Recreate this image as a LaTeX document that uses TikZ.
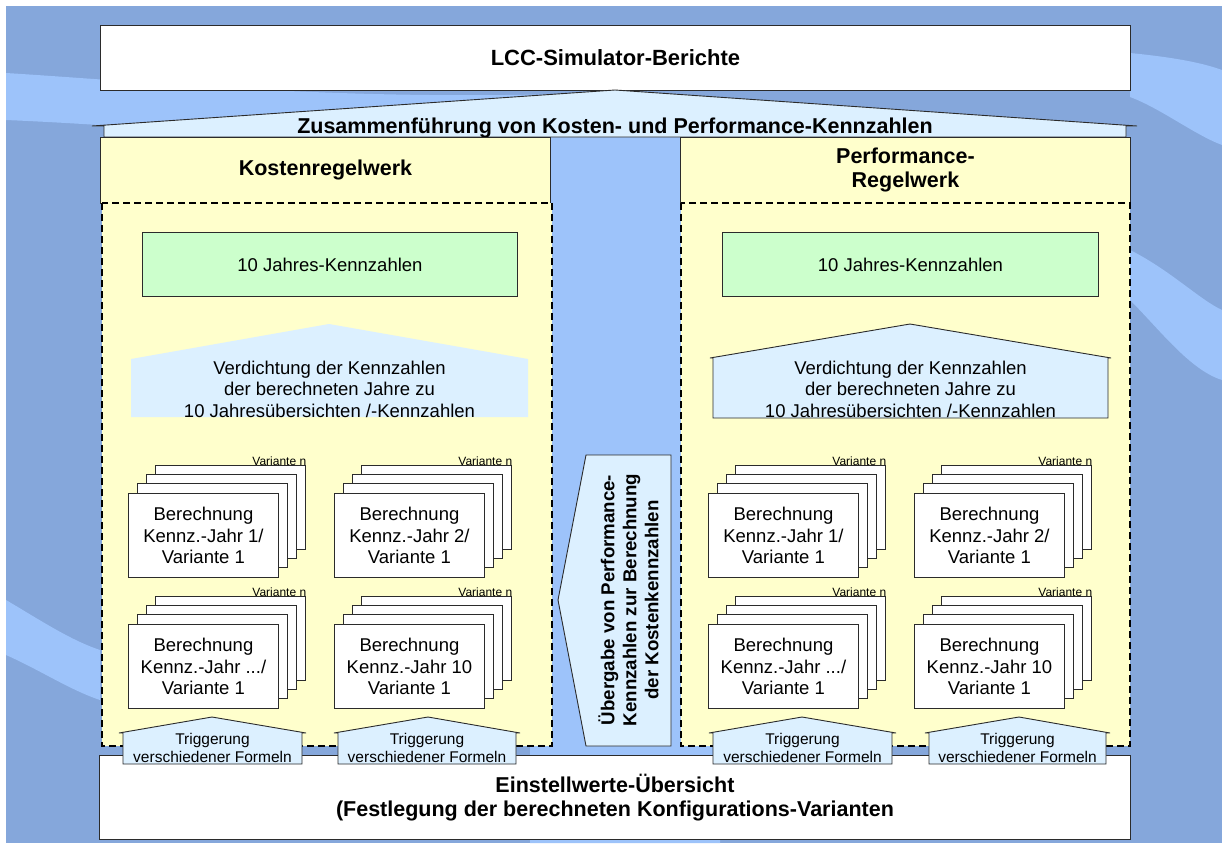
\documentclass[tikz,border=0pt]{standalone}
\usepackage{fontspec}
\setmainfont{Liberation Sans}
\definecolor{bgdark}{HTML}{85A7DB}
\definecolor{bglight}{HTML}{9DC3FA}
\definecolor{ylw}{HTML}{FFFFCC}
\definecolor{grn}{HTML}{CCFFCC}
\definecolor{lbl}{HTML}{DCF0FF}
\definecolor{edge}{HTML}{2B2B2B}
\newcommand{\bfnt}{\fontsize{21.5}{24}\selectfont\bfseries}
\newcommand{\topfnt}{\fontsize{22}{24}\selectfont\bfseries}
\newcommand{\nfnt}{\fontsize{18.5}{21.5}\selectfont}
\newcommand{\tfnt}{\fontsize{15.5}{18}\selectfont}
\newcommand{\vfnt}{\fontsize{12}{14}\selectfont}
\newcommand{\mfnt}{\fontsize{18.7}{22}\selectfont\bfseries}
\tikzset{
  bgl/.style={fill=bglight},
  wbox/.style={draw=edge, fill=white, line width=0.9pt, inner sep=0pt},
  ybox/.style={draw=edge, fill=ylw, line width=0.9pt, inner sep=0pt},
  gbox/.style={draw=edge, fill=grn, line width=0.9pt, inner sep=0pt},
  card/.style={draw=edge, fill=white, line width=0.9pt, inner sep=0pt},
  lbshape/.style={draw=edge, fill=lbl, line width=0.9pt, line join=miter},
  dpanel/.style={draw=black, fill=ylw, line width=1.6pt, dash pattern=on 7pt off 4pt},
  lbl text/.style={inner sep=0pt, align=center},
}
\newcommand{\cardstack}[4]{%
  \foreach \k in {3,2,1}{\draw[card] ({#1+\k*9.3},{#2-\k*9.3}) rectangle ++(150,84);}
  \node[card, minimum width=150pt, minimum height=84pt, anchor=north west, align=center, font=\nfnt] (#3) at (#1,#2) {#4};
  \node[inner sep=0pt, anchor=base east, font=\vfnt] (#3v) at ({#1+3*9.3+150.5},{#2-3*9.3}) {Variante n};
}
\newcommand{\trig}[4]{%
  \draw[lbshape] (#1,764) -- (#1,733) -- ({#1-4},733) -- (#3,717) -- ({#2+4},733) -- (#2,733) -- (#2,764) -- cycle;
  \node[lbl text, font=\tfnt] (#4) at ({(#1+#2)/2},747.5) {Triggerung\\verschiedener Formeln};
}
\begin{document}
\begin{tikzpicture}[x=1pt,y=-1pt]
\useasboundingbox (0,0) rectangle (1222,843);
% background
\fill[bgdark] (6,6) rectangle (1222,843);
\fill[bgl] (6,73) .. controls (150,82) and (330,100) .. (560,94) -- (720,100) -- (720,843) -- (530,843) -- (530,150) -- (300,140) .. controls (200,132) and (100,124) .. (6,120) -- cycle;
\fill[bgl] (1130,53) .. controls (1170,57) and (1200,62) .. (1222,70) -- (1222,145) .. controls (1195,135) and (1160,108) .. (1130,97) -- cycle;
\fill[bgl] (1130,250) .. controls (1170,270) and (1200,300) .. (1222,310) -- (1222,380) .. controls (1190,370) and (1160,330) .. (1130,300) -- cycle;
\fill[bgl] (6,600) .. controls (40,620) and (70,640) .. (100,650) -- (100,700) .. controls (70,690) and (40,670) .. (6,655) -- cycle;
% top box
\node[wbox, minimum width=1030pt, minimum height=65pt, anchor=north west, font=\topfnt] (top) at (100,25) {LCC-Simulator-Berichte};
% roof
\draw[lbshape] (104,137) -- (104,126) -- (92,126) -- (615,90) -- (1137,126) -- (1126,126) -- (1126,137) -- cycle;
\node[inner sep=0pt, anchor=base, font=\bfnt] (roof) at (615,133) {Zusammenführung von Kosten- und Performance-Kennzahlen};
% headers
\node[ybox, minimum width=450pt, minimum height=66pt, anchor=north west, font=\bfnt] (kh) at (100,137) {Kostenregelwerk};
\node[ybox, minimum width=450pt, minimum height=66pt, anchor=north west, font=\bfnt, align=center] (ph) at (680,137) {Performance-\\Regelwerk};
% dashed panels
\draw[dpanel] (102,203) rectangle (552,746);
\draw[dpanel] (681,203) rectangle (1130,746);
% green boxes
\node[gbox, minimum width=375pt, minimum height=64pt, anchor=north west, font=\nfnt] (kg) at (142,232) {10 Jahres-Kennzahlen};
\node[gbox, minimum width=376pt, minimum height=64pt, anchor=north west, font=\nfnt] (pg) at (722,232) {10 Jahres-Kennzahlen};
% Verdichtung
\fill[lbl] (131,359) -- (329,324) -- (528,359) -- (528,417) -- (131,417) -- cycle;
\node[lbl text, font=\nfnt] (kv) at (329.5,389) {Verdichtung der Kennzahlen\\der berechneten Jahre zu\\10 Jahresübersichten /-Kennzahlen};
\draw[lbshape] (713,418) -- (713,358) -- (710,358) -- (910,324) -- (1111,358) -- (1108,358) -- (1108,418) -- cycle;
\node[lbl text, font=\nfnt] (pv) at (910.5,389) {Verdichtung der Kennzahlen\\der berechneten Jahre zu\\10 Jahresübersichten /-Kennzahlen};
% card stacks
\cardstack{128}{493}{k1}{Berechnung\\Kennz.-Jahr 1/\\Variante 1}
\cardstack{334}{493}{k2}{Berechnung\\Kennz.-Jahr 2/\\Variante 1}
\cardstack{128}{624}{k3}{Berechnung\\Kennz.-Jahr .../\\Variante 1}
\cardstack{334}{624}{k4}{Berechnung\\Kennz.-Jahr 10\\Variante 1}
\cardstack{708}{493}{p1}{Berechnung\\Kennz.-Jahr 1/\\Variante 1}
\cardstack{914}{493}{p2}{Berechnung\\Kennz.-Jahr 2/\\Variante 1}
\cardstack{708}{624}{p3}{Berechnung\\Kennz.-Jahr .../\\Variante 1}
\cardstack{914}{624}{p4}{Berechnung\\Kennz.-Jahr 10\\Variante 1}
% middle arrow
\draw[lbshape] (586,455) -- (671,455) -- (671,746) -- (586,746) -- (558,600) -- cycle;
\node[lbl text, rotate=90, font=\mfnt] (mid) at (628.5,600) {Übergabe von Performance-\\Kennzahlen zur Berechnung\\der Kostenkennzahlen};
% bottom box
\node[wbox, minimum width=1031pt, minimum height=84pt, anchor=north west, font=\bfnt, align=center] (bot) at (99,755) {Einstellwerte-Übersicht\\(Festlegung der berechneten Konfigurations-Varianten};
% triggers
\trig{123}{302}{212}{t1}
\trig{338}{516}{428}{t2}
\trig{713}{892}{802}{t3}
\trig{929}{1106}{1019}{t4}
\end{tikzpicture}
\end{document}
